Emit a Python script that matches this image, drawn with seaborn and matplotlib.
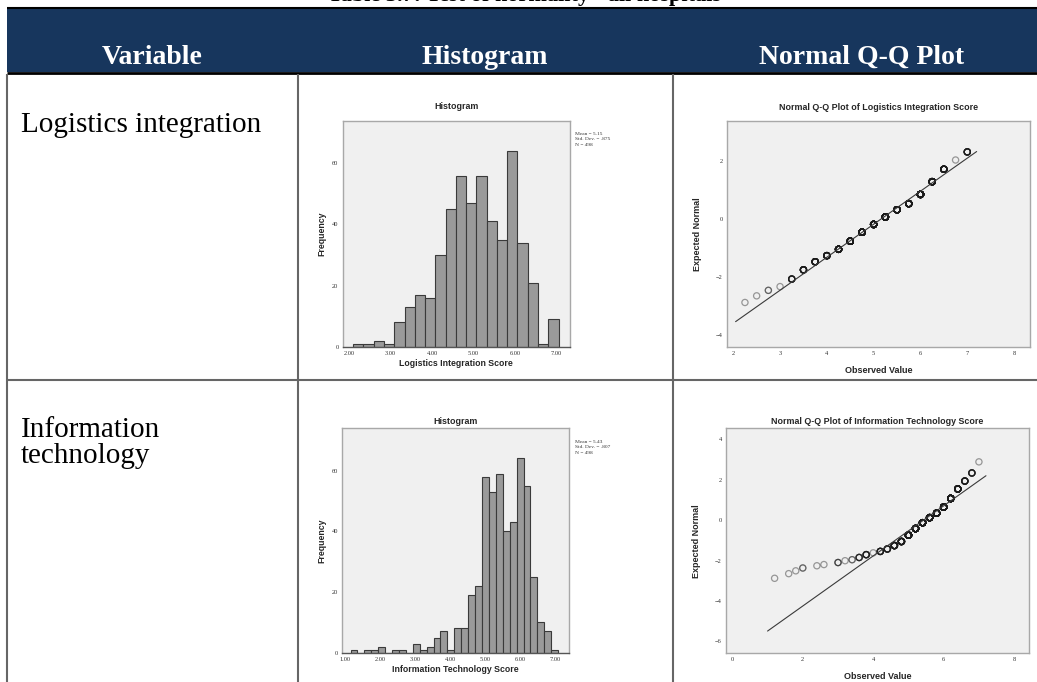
import numpy as np
import matplotlib
matplotlib.use("Agg")
import matplotlib.pyplot as plt
import seaborn as sns
from matplotlib.patches import Rectangle
from matplotlib.lines import Line2D

# ---------------- data ----------------
table_title = "Table 3.7: Test of normality - all hospitals"
header_labels = ["Variable", "Histogram", "Normal Q-Q Plot"]
row1_label = ["Logistics integration"]
row2_label = ["Information", "technology"]

# Logistics integration score
li_scores = [2.25, 2.50, 2.75, 3.00, 3.25, 3.50, 3.75, 4.00, 4.25, 4.50,
             4.75, 5.00, 5.25, 5.50, 5.75, 6.00, 6.25, 6.50, 6.75, 7.00]
li_counts = [1, 1, 2, 1, 8, 13, 17, 16, 30, 45,
             56, 47, 56, 41, 35, 64, 34, 21, 1, 9]
li_expected = [-2.88, -2.65, -2.46, -2.33, -2.07, -1.75, -1.47, -1.26, -1.04, -0.76,
               -0.45, -0.18, 0.08, 0.33, 0.54, 0.86, 1.30, 1.73, 2.05, 2.33]
li_mean, li_sd = 5.15, 0.875
li_line_x = [2.05, 7.2]
li_stats = ["Mean = 5.15", "Std. Dev. = .875", "N = 498"]
li_xlabel = "Logistics Integration Score"
li_qq_title = "Normal Q-Q Plot of Logistics Integration Score"
li_xticks = [2.0, 3.0, 4.0, 5.0, 6.0, 7.0]
li_qq_xticks = [2, 3, 4, 5, 6, 7, 8]
li_qq_yticks = [-4, -2, 0, 2]

# Information technology score
it_scores = [1.2, 1.6, 1.8, 2.0, 2.4, 2.6, 3.0, 3.2, 3.4, 3.6, 3.8, 4.0, 4.2, 4.4,
             4.6, 4.8, 5.0, 5.2, 5.4, 5.6, 5.8, 6.0, 6.2, 6.4, 6.6, 6.8, 7.0]
it_counts = [1, 1, 1, 2, 1, 1, 3, 1, 2, 5, 7, 1, 8, 8,
             19, 22, 58, 53, 59, 40, 43, 64, 55, 25, 10, 7, 1]
it_expected = [-2.88, -2.65, -2.51, -2.37, -2.26, -2.20, -2.10, -2.01, -1.96, -1.85,
               -1.71, -1.62, -1.55, -1.43, -1.26, -1.06, -0.75, -0.42, -0.13, 0.12,
               0.34, 0.64, 1.07, 1.54, 1.93, 2.33, 2.88]
it_mean, it_sd = 5.43, 0.807
it_line_x = [1.0, 7.2]
it_stats = ["Mean = 5.43", "Std. Dev. = .807", "N = 498"]
it_xlabel = "Information Technology Score"
it_qq_title = "Normal Q-Q Plot of Information Technology Score"
it_xticks = [1.0, 2.0, 3.0, 4.0, 5.0, 6.0, 7.0]
it_qq_xticks = [0, 2, 4, 6, 8]
it_qq_yticks = [-6, -4, -2, 0, 2, 4]

hist_yticks = [0, 20, 40, 60]

# ---------------- style ----------------
sns.set_style("white")
plt.rcParams["font.family"] = ["Liberation Serif", "DejaVu Serif"]

W, H = 1037, 682
fig = plt.figure(figsize=(W / 100, H / 100), dpi=100)
fig.patch.set_facecolor("white")

SERIF = "Liberation Serif"
SANS = "Liberation Sans"
NAVY = "#17365d"
GRID = "#666666"


def fx(x):
    return x / W


def fy(y):
    return 1 - y / H


def add_ax(l, t, r, b):
    return fig.add_axes([fx(l), fy(b), (r - l) / W, (b - t) / H])


def hline(y, x0, x1, color, lw):
    fig.add_artist(Line2D([fx(x0), fx(x1)], [fy(y), fy(y)], color=color, lw=lw,
                          transform=fig.transFigure, solid_capstyle="butt"))


def vline(x, y0, y1, color, lw):
    fig.add_artist(Line2D([fx(x), fx(x)], [fy(y0), fy(y1)], color=color, lw=lw,
                          transform=fig.transFigure, solid_capstyle="butt"))


# ---------------- table frame ----------------
# the caption is cut by the top edge of the page, as in the source image
fig.text(fx(525), fy(1.5), table_title, ha="center", va="baseline",
         fontsize=16, fontweight="bold", family=SERIF, color="black")

fig.add_artist(Rectangle((fx(7), fy(72)), (W - 7) / W, 64 / H, transform=fig.transFigure,
                         facecolor=NAVY, edgecolor="none"))
hline(7.8, 7, W, "black", 1.5)
hline(73, 7, W, "black", 2.0)

for x in (7, 298, 672.5):
    vline(x, 74, H, GRID, 1.5)
hline(380, 7, W, GRID, 1.5)

for xc, lab in zip((152, 485, 862), header_labels):
    fig.text(fx(xc), fy(64), lab, ha="center", va="baseline", fontsize=20,
             fontweight="bold", family=SERIF, color="white")

fig.text(fx(21), fy(132), row1_label[0], ha="left", va="baseline", fontsize=21,
         family=SERIF, color="black")
for i, s in enumerate(row2_label):
    fig.text(fx(21), fy(437 + 26 * i), s, ha="left", va="baseline", fontsize=21,
             family=SERIF, color="black")


# ---------------- chart helpers ----------------
def style_axes(ax):
    ax.set_facecolor("#f0f0f0")
    for sp in ax.spines.values():
        sp.set_visible(True)
        sp.set_color("#a8a8a8")
        sp.set_linewidth(1.0)
    ax.tick_params(axis="both", direction="out", length=2, width=0.6, color="#555555",
                   labelsize=4.6, labelcolor="#333333", pad=1)
    for lab in ax.get_xticklabels() + ax.get_yticklabels():
        lab.set_family(SERIF)


def draw_hist(ax, scores, counts, binrange, nbins, xlim, xticks, xlabel, stats,
              title_pad, stats_y):
    sns.histplot(x=scores, weights=counts, bins=nbins, binrange=binrange, ax=ax,
                 color="#9a9a9a", edgecolor="#3a3a3a", linewidth=0.8, alpha=1.0)
    ax.set_xlim(*xlim)
    ax.set_ylim(0, 74)
    ax.set_xticks(xticks)
    ax.set_xticklabels([f"{t:.2f}" for t in xticks])
    ax.set_yticks(hist_yticks)
    ax.set_title("Histogram", fontsize=6.4, fontweight="bold", family=SANS, pad=title_pad)
    ax.set_xlabel(xlabel, fontsize=6.3, fontweight="bold", family=SANS, labelpad=2)
    ax.set_ylabel("Frequency", fontsize=6.3, fontweight="bold", family=SANS, labelpad=4)
    style_axes(ax)
    ax.spines["bottom"].set_color("#555555")
    for i, s in enumerate(stats):
        fig.text(fx(575), fy(stats_y + 5.5 * i), s, ha="left", va="baseline",
                 fontsize=3.9, family=SERIF, color="#333333")


def draw_qq(ax, scores, counts, expected, mean, sd, line_x, xlim, ylim, xticks,
            yticks, title, title_pad):
    x_all = np.repeat(scores, counts)
    y_all = np.repeat(expected, counts)
    line_y = [(v - mean) / sd for v in line_x]
    sns.lineplot(x=line_x, y=line_y, ax=ax, color="#3a3a3a", linewidth=0.8)
    sns.scatterplot(x=x_all, y=y_all, ax=ax, marker="o", s=20, facecolor="none",
                    edgecolor="#1a1a1a", linewidth=0.9, alpha=0.42)
    ax.set_xlim(*xlim)
    ax.set_ylim(*ylim)
    ax.set_xticks(xticks)
    ax.set_yticks(yticks)
    ax.set_title(title, fontsize=6.4, fontweight="bold", family=SANS, pad=title_pad)
    ax.set_xlabel("Observed Value", fontsize=6.5, fontweight="bold", family=SANS, labelpad=7)
    ax.set_ylabel("Expected Normal", fontsize=6.5, fontweight="bold", family=SANS, labelpad=10)
    style_axes(ax)


# ---------------- charts ----------------
ax_h1 = add_ax(342.6, 120.6, 570, 346.7)
draw_hist(ax_h1, li_scores, li_counts, (2.10, 7.05), 20, (1.846, 7.325), li_xticks,
          li_xlabel, li_stats, 8, 135)

ax_q1 = add_ax(726.7, 120.7, 1030, 346.7)
draw_qq(ax_q1, li_scores, li_counts, li_expected, li_mean, li_sd, li_line_x,
        (1.86, 8.34), (-4.41, 3.41), li_qq_xticks, li_qq_yticks, li_qq_title, 8)

ax_h2 = add_ax(342, 428, 569.3, 652.7)
draw_hist(ax_h2, it_scores, it_counts, (1.15, 7.08), 30, (0.906, 7.40), it_xticks,
          it_xlabel, it_stats, 3, 443)

ax_q2 = add_ax(726, 428.3, 1029.3, 653.3)
draw_qq(ax_q2, it_scores, it_counts, it_expected, it_mean, it_sd, it_line_x,
        (-0.18, 8.43), (-6.59, 4.54), it_qq_xticks, it_qq_yticks, it_qq_title, 3)

fig.savefig("out.png", dpi=100, facecolor="white")
